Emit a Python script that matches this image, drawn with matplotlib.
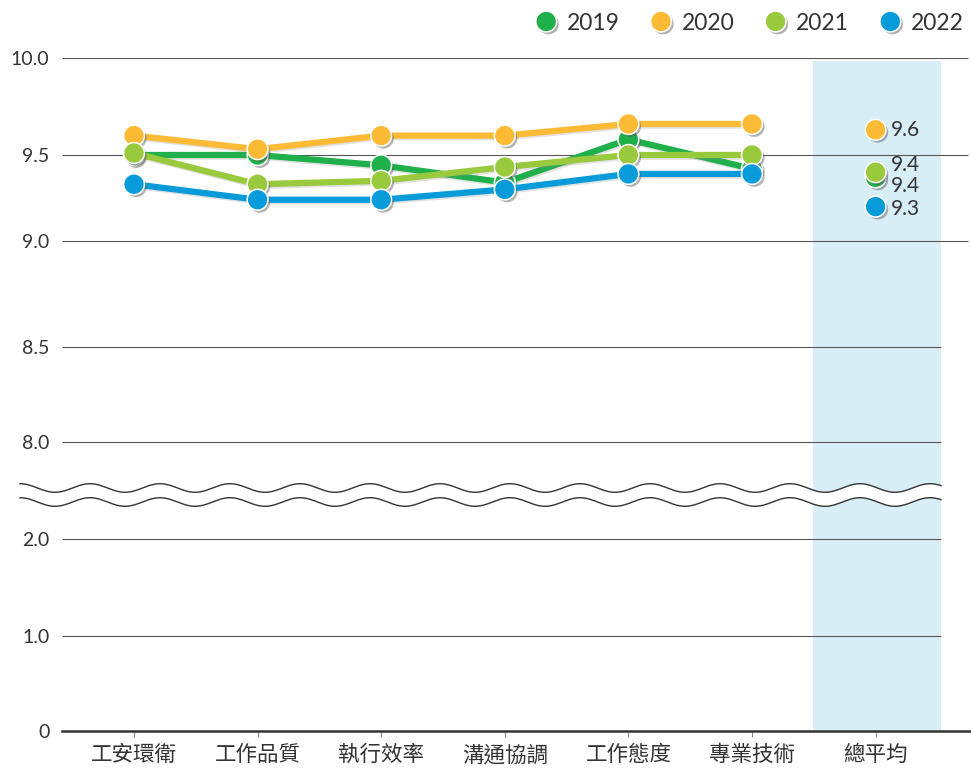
import numpy as np
import matplotlib
matplotlib.use("Agg")
import matplotlib.pyplot as plt
from matplotlib.lines import Line2D
from matplotlib.patches import Polygon
import matplotlib.patheffects as pe

plt.rcParams['font.family'] = ['Lato', 'Noto Sans CJK TC', 'DejaVu Sans']

# ---------------- data ----------------
categories = ["工安環衛", "工作品質", "執行效率", "溝通協調", "工作態度", "專業技術", "總平均"]
years = ["2019", "2020", "2021", "2022"]
colors = ["#1fb04b", "#fdbb35", "#99c93c", "#079cd9"]

s2019 = [9.50, 9.50, 9.44, 9.34, 9.58, 9.42]
s2020 = [9.60, 9.53, 9.60, 9.60, 9.66, 9.66]
s2021 = [9.51, 9.33, 9.35, 9.43, 9.50, 9.50]
s2022 = [9.33, 9.24, 9.24, 9.30, 9.39, 9.39]
series = [s2019, s2020, s2021, s2022]

avg_values = [9.37, 9.63, 9.40, 9.20]
avg_labels = ["9.4", "9.6", "9.4", "9.3"]

y_ticks = [0, 1, 2, 8, 8.5, 9, 9.5, 10]
y_ticklabels = ["0", "1.0", "2.0", "8.0", "8.5", "9.0", "9.5", "10.0"]

# broken, hand-spaced value axis (value -> pixel height above baseline)
scale_vals = np.array([0, 1, 2, 8, 8.5, 9, 9.5, 10])
scale_pos = np.array([0, 95, 192, 289, 384, 490, 576, 673], dtype=float)

def fwd(v):
    return np.interp(v, scale_vals, scale_pos)

def inv(p):
    return np.interp(p, scale_pos, scale_vals)

# ---------------- figure ----------------
W, H = 971, 768
fig = plt.figure(figsize=(W / 100, H / 100), dpi=100)
ax = fig.add_axes([62 / W, (H - 731) / H, (971 - 62) / W, (731 - 58) / H])
ax.set_yscale('function', functions=(fwd, inv))
ax.set_ylim(0, 10)
ax.set_xlim(-0.5825, 6.772)

text_col = "#333333"

# average band
ax.axvspan(5.49, 6.53, ymin=0, ymax=0.9955, color="#d8eef7", zorder=0, lw=0)

# gridlines
for yv in y_ticks[1:]:
    xmax = 6.748 if yv >= 9 else 6.529
    ax.hlines(yv, -0.5825, xmax, color="#555555", lw=0.8, zorder=1)

for s in ["top", "right", "left"]:
    ax.spines[s].set_visible(False)
ax.spines["bottom"].set_color("#333333")
ax.spines["bottom"].set_linewidth(1.8)
ax.spines["bottom"].set_zorder(2)

ax.set_yticks(y_ticks, y_ticklabels)
ax.tick_params(axis='y', length=0, pad=9, labelsize=14, labelcolor=text_col)
ax.set_xticks(range(len(categories)), categories)
ax.tick_params(axis='x', length=4, width=0.8, color="#888888", pad=6,
               labelsize=15.5, labelcolor=text_col)
ax.minorticks_off()

shadow = [pe.withSimplePatchShadow(offset=(1.6, -1.8), shadow_rgbFace="#555555", alpha=0.45)]
line_shadow = [pe.SimpleLineShadow(offset=(1, -1.2), shadow_color="#888888", alpha=0.25), pe.Normal()]

x_main = np.arange(len(categories) - 1)
for i, (vals, col) in enumerate(zip(series, colors)):
    z = 3 + i * 2
    ax.plot(x_main, vals, color=col, lw=4.5, solid_capstyle='round',
            zorder=z, path_effects=line_shadow)
    ax.plot(x_main, vals, ls='none', marker='o', ms=15, mfc=col, mec='white',
            mew=1.1, zorder=z + 1, path_effects=shadow)

# overall average markers and labels
avg_x = len(categories) - 1
label_dy = [-6, 0, 5, -1.5]
for i, (v, lab, col) in enumerate(zip(avg_values, avg_labels, colors)):
    ax.plot([avg_x], [v], ls='none', marker='o', ms=15, mfc=col, mec='white',
            mew=1.1, zorder=3 + i * 2 + 1, path_effects=shadow)
    ax.annotate(lab, (avg_x, v), xytext=(11, label_dy[i]), textcoords='offset points',
                ha='left', va='center', fontsize=15, color=text_col, zorder=20)

# axis break (wavy double line)
xw = np.linspace(20, 941, 900)
wave = 4.3 * np.cos(2 * np.pi * (xw - 20) / 70)
top_y = (H - (488 - wave)) / H
bot_y = (H - (502 - wave)) / H
xf = xw / W
poly = Polygon(np.column_stack([np.r_[xf, xf[::-1]], np.r_[top_y, bot_y[::-1]]]),
               closed=True, facecolor='white', edgecolor='none',
               transform=fig.transFigure, zorder=5)
fig.add_artist(poly)
fig.add_artist(Line2D(xf, top_y, color="#333333", lw=1.0, transform=fig.transFigure, zorder=6))
fig.add_artist(Line2D(xf, bot_y, color="#333333", lw=1.0, transform=fig.transFigure, zorder=6))

# legend
handles = [Line2D([], [], ls='none', marker='o', ms=15, mfc=c, mec='white', mew=1.1,
                  path_effects=shadow) for c in colors]
leg = fig.legend(handles, years, loc='center right', bbox_to_anchor=(973 / W, (H - 23) / H),
                 ncol=4, frameon=False, fontsize=16.5, handlelength=1.0, handletextpad=0.4,
                 columnspacing=1.3, borderaxespad=0)
for t in leg.get_texts():
    t.set_color(text_col)

fig.savefig("out.png", dpi=100)
